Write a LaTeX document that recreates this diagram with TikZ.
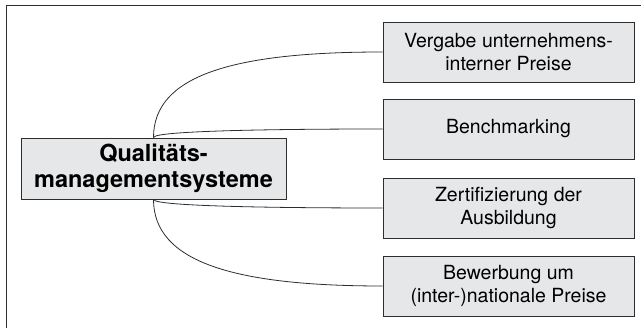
\documentclass[tikz,border=0pt]{standalone}
\usepackage{fontspec}
\setmainfont{TeX Gyre Heros}
\usepackage{xcolor}
\definecolor{boxgray}{RGB}{230,231,232}
\definecolor{linegray}{RGB}{45,45,45}

\begin{document}
\begin{tikzpicture}[x=1pt, y=-1pt,
        mainbox/.style={draw=linegray, fill=boxgray, line width=0.9pt, align=center,
            minimum width=265pt, minimum height=61pt, inner sep=0pt,
            font=\fontsize{23.5}{26}\selectfont\bfseries},
        sidebox/.style={draw=linegray, fill=boxgray, line width=0.9pt, align=center,
            minimum width=251pt, minimum height=60pt, inner sep=0pt,
            font=\fontsize{19.5}{23.5}\selectfont},
        link/.style={draw=linegray, line width=0.8pt}]
        \useasboundingbox (0, 0) rectangle (641, 328);

        % frame, open to the right and below
        \draw[link, line width=1pt] (6, 328) -- (6, 6) -- (641, 6);

        \node[mainbox] (qms) at (153.5, 168.5) {Qualitäts-\\managementsysteme};

        \node[sidebox] (preise) at (508.5, 52) {Vergabe unternehmens-\\interner Preise};
        \node[sidebox] (bench) at (508.5, 129) {Benchmarking};
        \node[sidebox] (zert) at (508.5, 208) {Zertifizierung der\\Ausbildung};
        \node[sidebox] (bewerb) at (508.5, 286) {Bewerbung um\\(inter-)nationale Preise};

        \draw[link] (qms.north) .. controls +(0, -62) and +(-150, 0) .. (preise.west)
            (qms.north) .. controls +(0, -8) and +(-60, 0) .. (bench.west)
            (qms.south) .. controls +(0, 8) and +(-60, 0) .. (zert.west)
            (qms.south) .. controls +(0, 62) and +(-150, 0) .. (bewerb.west);
    \end{tikzpicture}
\end{document}
